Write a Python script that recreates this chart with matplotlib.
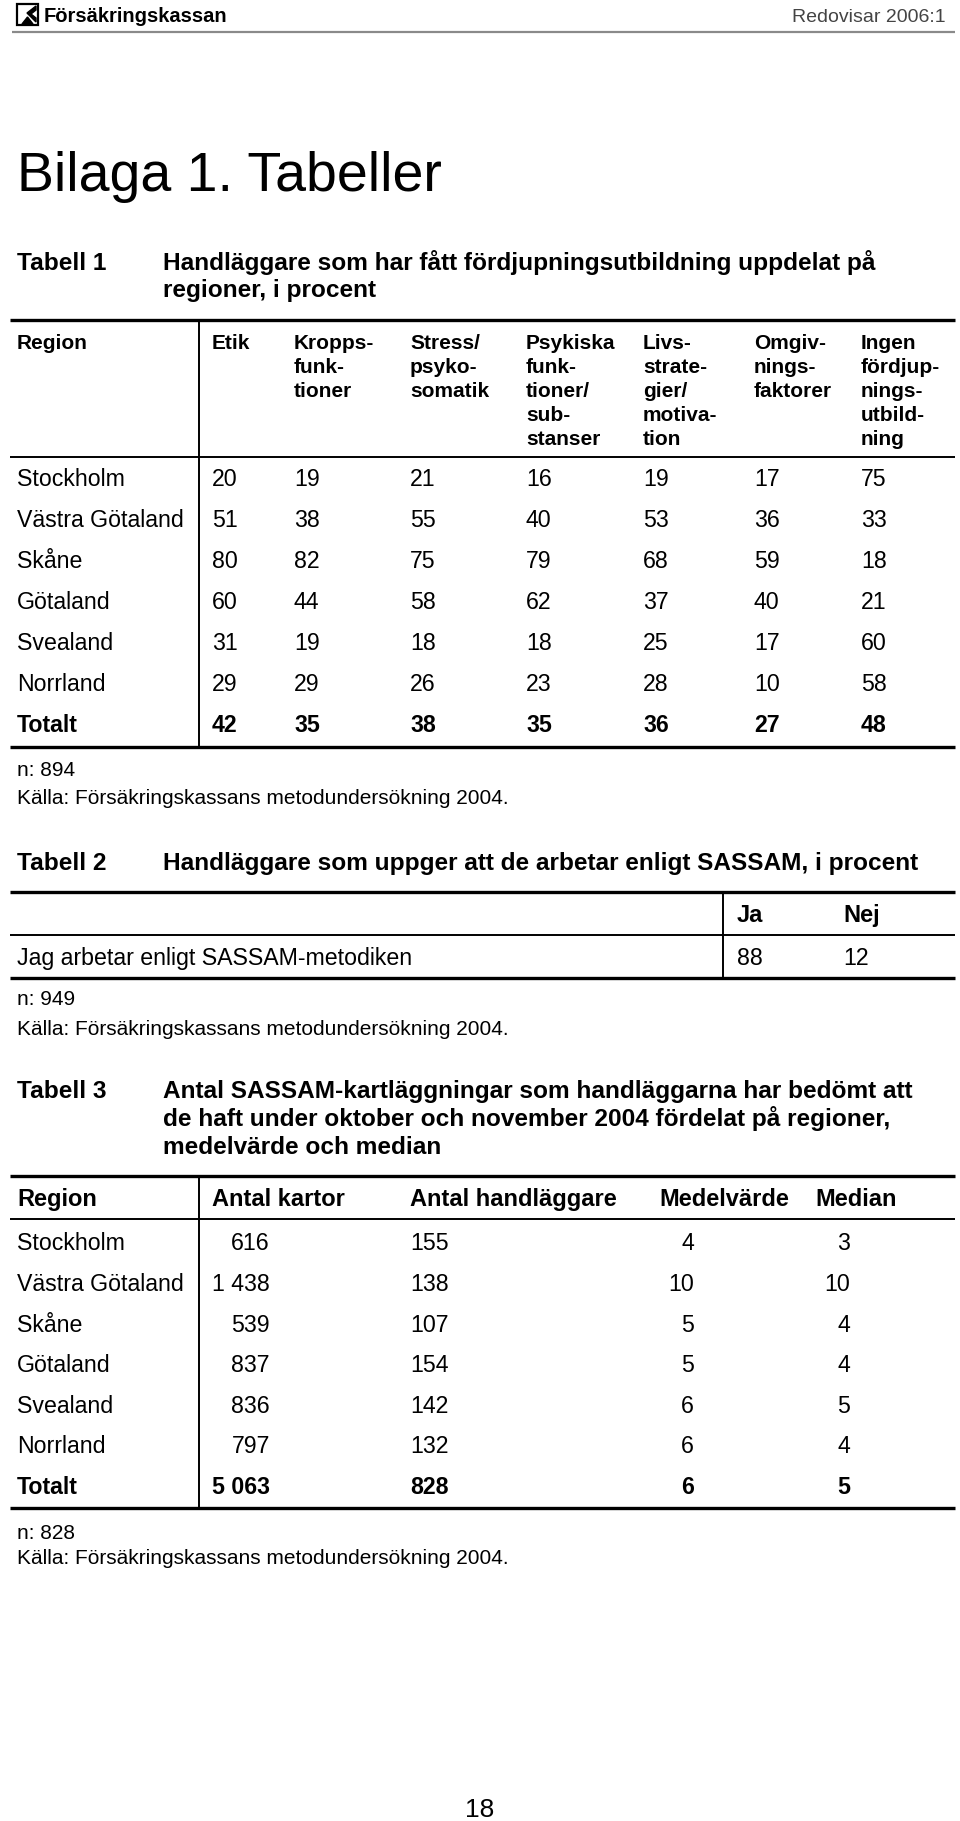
import matplotlib.pyplot as plt
from matplotlib.patches import Polygon, Rectangle

# Tabell 1: handläggare med fördjupningsutbildning, procent
regions = ["Stockholm", "Västra Götaland", "Skåne", "Götaland", "Svealand", "Norrland"]
t1_headers = [
    ["Etik"],
    ["Kropps-", "funk-", "tioner"],
    ["Stress/", "psyko-", "somatik"],
    ["Psykiska", "funk-", "tioner/", "sub-", "stanser"],
    ["Livs-", "strate-", "gier/", "motiva-", "tion"],
    ["Omgiv-", "nings-", "faktorer"],
    ["Ingen", "fördjup-", "nings-", "utbild-", "ning"],
]
etik = [20, 51, 80, 60, 31, 29]
kropp = [19, 38, 82, 44, 19, 29]
stress = [21, 55, 75, 58, 18, 26]
psykiska = [16, 40, 79, 62, 18, 23]
livs = [19, 53, 68, 37, 25, 28]
omgiv = [17, 36, 59, 40, 17, 10]
ingen = [75, 33, 18, 21, 60, 58]
t1_totalt = [42, 35, 38, 35, 36, 27, 48]

# Tabell 2: arbetar enligt SASSAM
t2_headers = ["Ja", "Nej"]
t2_values = [88, 12]

# Tabell 3: SASSAM-kartläggningar per region
t3_headers = ["Region", "Antal kartor", "Antal handläggare", "Medelvärde", "Median"]
kartor = [616, 1438, 539, 837, 836, 797]
handlaggare = [155, 138, 107, 154, 142, 132]
medelvarde = [4, 10, 5, 5, 6, 6]
median = [3, 10, 4, 4, 5, 4]
t3_totalt = [5063, 828, 6, 5]

FONT = ["Liberation Sans", "DejaVu Sans"]
NARROW = ["Liberation Sans Narrow", "Liberation Sans", "DejaVu Sans"]
NOTE = 15      # n: och Källa, rubriker i tabell 1
CELL = 16.7    # tabellceller
HEAD = 17      # kolumnrubriker tabell 2 och 3
TITLE = 17.6   # tabellrubriker

fig = plt.figure(figsize=(9.6, 18.21), dpi=100)
ax = fig.add_axes([0, 0, 1, 1])
ax.set_xlim(0, 960)
ax.set_ylim(1821, 0)
ax.axis("off")


def txt(x, y, s, size=CELL, bold=False, ha="left", color="black", family=FONT):
    # y är mitten av versalhöjden, räkna om till baslinje
    base = y + 0.358 * size * 100 / 72
    ax.text(x, base, s, fontsize=size, fontweight="bold" if bold else "normal",
            ha=ha, va="baseline", color=color, family=family)


def hline(y, lw, x0=10, x1=955, color="black"):
    ax.plot([x0, x1], [y, y], color=color, lw=lw, solid_capstyle="butt")


def vline(x, y0, y1, lw=1.4):
    ax.plot([x, x], [y0, y1], color="black", lw=lw, solid_capstyle="butt")


def fmt(v):
    return f"{v:,}".replace(",", " ")


# sidhuvud
ax.add_patch(Rectangle((17, 4), 21, 21, fill=False, lw=1.6, edgecolor="black"))
ax.add_patch(Polygon([[22, 24], [33, 24], [27.5, 17]], color="black"))
ax.add_patch(Polygon([[27, 13], [36, 6], [36, 10], [31, 14], [36, 18], [36, 22]], color="black"))
txt(44, 15, "Försäkringskassan", size=14.5, bold=True, family=NARROW)
txt(946, 15, "Redovisar 2006:1", size=14, ha="right", color="#444444", family=NARROW)
hline(32, 1.6, x0=12, x1=955, color="#8a8a8a")

txt(17, 171, "Bilaga 1. Tabeller", size=40)

# Tabell 1
txt(17, 261, "Tabell 1", size=TITLE, bold=True)
txt(163, 261, "Handläggare som har fått fördjupningsutbildning uppdelat på", size=TITLE, bold=True)
txt(163, 288, "regioner, i procent", size=TITLE, bold=True)

t1_top, t1_head_bottom, t1_bottom = 320, 457, 747
col_x1 = [212, 294, 410, 526, 643, 754, 861]
head_y = [342, 366, 390, 414, 438]
hline(t1_top, 2.4)
hline(t1_head_bottom, 1.4)
hline(t1_bottom, 2.4)
vline(199, t1_top, t1_bottom)
txt(17, head_y[0], "Region", size=NOTE, bold=True)
for x, lines in zip(col_x1, t1_headers):
    for y, s in zip(head_y, lines):
        txt(x, y, s, size=NOTE, bold=True)

t1_cols = [etik, kropp, stress, psykiska, livs, omgiv, ingen]
row_y1 = [478 + 41 * i for i in range(len(regions) + 1)]
for i, reg in enumerate(regions):
    txt(17, row_y1[i], reg)
    for x, col in zip(col_x1, t1_cols):
        txt(x, row_y1[i], str(col[i]))
txt(17, row_y1[-1], "Totalt", bold=True)
for x, v in zip(col_x1, t1_totalt):
    txt(x, row_y1[-1], str(v), bold=True)

txt(17, 769, "n: 894", size=NOTE)
txt(17, 797, "Källa: Försäkringskassans metodundersökning 2004.", size=NOTE)

# Tabell 2
txt(17, 861, "Tabell 2", size=TITLE, bold=True)
txt(163, 861, "Handläggare som uppger att de arbetar enligt SASSAM, i procent", size=TITLE, bold=True)
hline(892, 2.4)
hline(935, 1.4)
hline(978, 2.4)
vline(723, 892, 978)
col_x2 = [737, 843]
for x, h, v in zip(col_x2, t2_headers, t2_values):
    txt(x, 914, h, size=HEAD, bold=True)
    txt(x, 957, str(v))
txt(17, 957, "Jag arbetar enligt SASSAM-metodiken")
txt(17, 998, "n: 949", size=NOTE)
txt(17, 1028, "Källa: Försäkringskassans metodundersökning 2004.", size=NOTE)

# Tabell 3
txt(17, 1089, "Tabell 3", size=TITLE, bold=True)
txt(163, 1089, "Antal SASSAM-kartläggningar som handläggarna har bedömt att", size=TITLE, bold=True)
txt(163, 1117, "de haft under oktober och november 2004 fördelat på regioner,", size=TITLE, bold=True)
txt(163, 1145, "medelvärde och median", size=TITLE, bold=True)

t3_top, t3_bottom = 1176, 1508
hline(t3_top, 2.4)
hline(1219, 1.4)
hline(t3_bottom, 2.4)
vline(199, t3_top, t3_bottom)
head_x3 = [17, 212, 410, 659, 815]
for x, h in zip(head_x3, t3_headers):
    txt(x, 1198, h, size=HEAD, bold=True)

row_y3 = [1242 + 40.6 * i for i in range(len(regions) + 1)]
# talkolumner: (x, justering)
num_cols = [(270, "right"), (410, "left"), (694, "right"), (850, "right")]
t3_cols = [kartor, handlaggare, medelvarde, median]
for i, reg in enumerate(regions):
    txt(17, row_y3[i], reg)
    for (x, ha), col in zip(num_cols, t3_cols):
        txt(x, row_y3[i], fmt(col[i]), ha=ha)
txt(17, row_y3[-1], "Totalt", bold=True)
for (x, ha), v in zip(num_cols, t3_totalt):
    txt(x, row_y3[-1], fmt(v), ha=ha, bold=True)

txt(17, 1532, "n: 828", size=NOTE)
txt(17, 1557, "Källa: Försäkringskassans metodundersökning 2004.", size=NOTE)

txt(480, 1808, "18", size=19, ha="center")

fig.savefig("out.png", dpi=100, facecolor="white")
